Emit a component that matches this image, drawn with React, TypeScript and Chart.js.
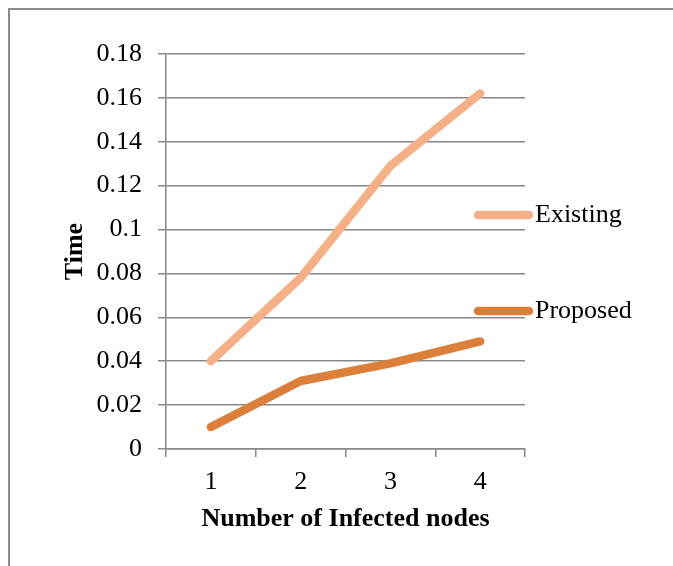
import React, { useEffect, useRef } from "react";
import { Chart, registerables } from "chart.js";

Chart.register(...registerables);

const categories = ["1", "2", "3", "4"];
const existingValues = [0.04, 0.078, 0.129, 0.162];
const proposedValues = [0.01, 0.031, 0.039, 0.049];
const seriesNames = ["Existing", "Proposed"];
const seriesColors = ["#F6B088", "#DC7F3A"];
const yTitle = "Time";
const xTitle = "Number of Infected nodes";

const FONT = "'Liberation Serif', 'Times New Roman', serif";

const sideLegend = {
  id: "sideLegend",
  afterDraw(chart: any) {
    const { ctx, chartArea } = chart;
    const rowYs = [chartArea.top + 161, chartArea.top + 257];
    ctx.save();
    chart.data.datasets.forEach((ds: any, i: number) => {
      const y = rowYs[i];
      const x0 = chartArea.right - 47;
      const x1 = chartArea.right + 4;
      ctx.strokeStyle = ds.borderColor;
      ctx.lineWidth = 8.5;
      ctx.lineCap = "round";
      ctx.beginPath();
      ctx.moveTo(x0, y);
      ctx.lineTo(x1, y);
      ctx.stroke();
      ctx.fillStyle = "#000";
      ctx.font = `26px ${FONT}`;
      ctx.textBaseline = "middle";
      ctx.textAlign = "left";
      ctx.fillText(ds.label, chartArea.right + 10, y);
    });
    ctx.restore();
  },
};

export default function App() {
  const ref = useRef<HTMLCanvasElement | null>(null);
  useEffect(() => {
    if (!ref.current) return;
    const gridColor = "#888888";
    const chart = new Chart(ref.current, {
      type: "line",
      data: {
        labels: categories,
        datasets: [
          {
            label: seriesNames[0],
            data: existingValues,
            borderColor: seriesColors[0],
            backgroundColor: seriesColors[0],
            borderWidth: 8.5,
            pointRadius: 0,
            borderCapStyle: "round",
            borderJoinStyle: "round",
            tension: 0,
          },
          {
            label: seriesNames[1],
            data: proposedValues,
            borderColor: seriesColors[1],
            backgroundColor: seriesColors[1],
            borderWidth: 8.5,
            pointRadius: 0,
            borderCapStyle: "round",
            borderJoinStyle: "round",
            tension: 0,
          },
        ],
      },
      options: {
        responsive: false,
        animation: false,
        layout: { padding: { left: 40, top: 44, right: 148, bottom: 17 } },
        plugins: {
          legend: { display: false },
          tooltip: { enabled: false },
        },
        scales: {
          x: {
            offset: true,
            grid: {
              offset: true,
              drawOnChartArea: false,
              drawTicks: true,
              tickLength: 8,
              color: gridColor,
              lineWidth: 1.5,
            },
            border: { display: true, color: gridColor, width: 1.5 },
            ticks: {
              color: "#000",
              font: { family: FONT, size: 26 },
              padding: 10,
              maxRotation: 0,
            },
            title: {
              display: true,
              text: xTitle,
              color: "#000",
              font: { family: FONT, size: 26, weight: "bold" },
              padding: { top: 0, bottom: 14 },
            },
            afterFit(scale: any) {
              scale.height = 100;
            },
          },
          y: {
            min: 0,
            max: 0.18,
            ticks: {
              stepSize: 0.02,
              color: "#000",
              font: { family: FONT, size: 26 },
              padding: 16,
              callback: (v: any) => String(Number(Number(v).toFixed(2))),
            },
            grid: {
              color: gridColor,
              lineWidth: 1.5,
              drawTicks: true,
              tickLength: 8,
            },
            border: { display: true, color: gridColor, width: 1.5 },
            title: {
              display: true,
              text: yTitle,
              color: "#000",
              font: { family: FONT, size: 26, weight: "bold" },
              padding: { top: 10, bottom: 0 },
            },
            afterFit(scale: any) {
              scale.width = 116;
            },
          },
        },
      },
      plugins: [sideLegend],
    });
    return () => chart.destroy();
  }, []);

  return (
    <div
      style={{
        position: "absolute",
        left: 8,
        top: 8,
        width: 665,
        height: 558,
        boxSizing: "border-box",
        borderTop: "2px solid #8c8c8c",
        borderLeft: "2px solid #8c8c8c",
        background: "#fff",
      }}
    >
      <canvas ref={ref} width={663} height={556} style={{ display: "block" }} />
    </div>
  );
}
